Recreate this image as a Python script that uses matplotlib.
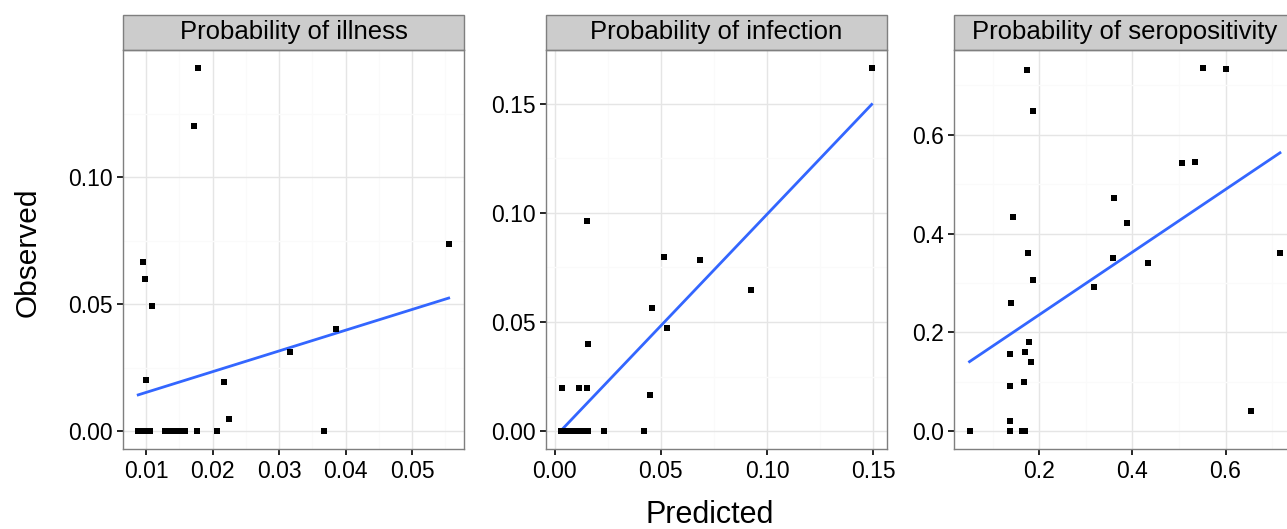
import matplotlib
matplotlib.use('Agg')  # no UI backend
import numpy as np
import matplotlib.pyplot as plt
from matplotlib.patches import Rectangle
from matplotlib.ticker import FixedLocator, FormatStrFormatter

plt.rcParams['font.family'] = ['Liberation Sans', 'DejaVu Sans']

titles = ["Probability of illness", "Probability of infection", "Probability of seropositivity"]

# illness
pred_ill = [0.0178, 0.01725, 0.0555, 0.00945, 0.0098, 0.0109, 0.0100, 0.0217, 0.0225,
            0.0317, 0.0385, 0.0368, 0.0088, 0.0093, 0.0096, 0.0106, 0.0129, 0.0138,
            0.0143, 0.0149, 0.0155, 0.0158, 0.0177, 0.0207]
obs_ill = [0.1429, 0.120, 0.0737, 0.0667, 0.0599, 0.0494, 0.020, 0.0192, 0.0046,
           0.0312, 0.0401, 0, 0, 0, 0, 0, 0, 0, 0, 0, 0, 0, 0, 0]

# infection
pred_inf = [0.1492, 0.0150, 0.0516, 0.0684, 0.0922, 0.0458, 0.0531, 0.0157, 0.0037,
            0.0114, 0.0154, 0.0447, 0.0031, 0.0045, 0.0055, 0.0078, 0.0090, 0.0105,
            0.0120, 0.0135, 0.0157, 0.0230, 0.0419]
obs_inf = [0.1663, 0.0962, 0.0800, 0.0782, 0.0645, 0.0563, 0.0473, 0.0400, 0.0199,
           0.0199, 0.0199, 0.0167, 0, 0, 0, 0, 0, 0, 0, 0, 0, 0, 0]

# seropositivity
pred_sero = [0.174, 0.186, 0.551, 0.601, 0.506, 0.535, 0.360, 0.144, 0.388, 0.175,
             0.358, 0.434, 0.717, 0.187, 0.318, 0.139, 0.178, 0.138, 0.169, 0.183,
             0.166, 0.136, 0.655, 0.138, 0.050, 0.136, 0.162, 0.169]
obs_sero = [0.731, 0.648, 0.735, 0.733, 0.543, 0.544, 0.473, 0.433, 0.422, 0.361,
            0.351, 0.340, 0.361, 0.307, 0.291, 0.260, 0.180, 0.156, 0.160, 0.140,
            0.100, 0.091, 0.040, 0.021, 0.0, 0.0, 0.0, 0.0]

# linear fits (intercept, slope)
fits = [(0.0071, 0.816), (-0.0028, 1.022), (0.109, 0.634)]

xticks = [[0.01, 0.02, 0.03, 0.04, 0.05], [0.00, 0.05, 0.10, 0.15], [0.2, 0.4, 0.6]]
xminor = [[0.005, 0.015, 0.025, 0.035, 0.045, 0.055], [0.025, 0.075, 0.125], [0.1, 0.3, 0.5, 0.7]]
yticks = [[0.00, 0.05, 0.10], [0.00, 0.05, 0.10, 0.15], [0.0, 0.2, 0.4, 0.6]]
yminor = [[0.025, 0.075, 0.125], [0.025, 0.075, 0.125], [0.1, 0.3, 0.5, 0.7]]
fmts = ['%.2f', '%.2f', '%.1f']

W, H = 1287, 529
fig = plt.figure(figsize=(W / 100, H / 100), dpi=100)
lefts = [122.7, 545.7, 954.0]
pw = 341.5
bottom_px, top_px = 449.3, 50.0
strip_h = 35.0

data = [(pred_ill, obs_ill), (pred_inf, obs_inf), (pred_sero, obs_sero)]

for i, (px, py) in enumerate(data):
    ax = fig.add_axes([lefts[i] / W, 1 - bottom_px / H, pw / W, (bottom_px - top_px) / H])
    px = np.array(px)
    py = np.array(py)
    b0, b1 = fits[i]
    xl = np.array([px.min(), px.max()])
    ax.plot(xl, b0 + b1 * xl, color='#3366FF', lw=2.0, zorder=3)
    ax.plot(px, py, 's', color='black', ms=4.2, mew=0, zorder=4)
    ax.margins(0.05)
    ax.xaxis.set_major_locator(FixedLocator(xticks[i]))
    ax.xaxis.set_minor_locator(FixedLocator(xminor[i]))
    ax.yaxis.set_major_locator(FixedLocator(yticks[i]))
    ax.yaxis.set_minor_locator(FixedLocator(yminor[i]))
    ax.xaxis.set_major_formatter(FormatStrFormatter(fmts[i]))
    ax.yaxis.set_major_formatter(FormatStrFormatter(fmts[i]))
    ax.grid(True, which='major', color='#E5E5E5', lw=1.0, zorder=0)
    ax.grid(True, which='minor', color='#FAFAFA', lw=1.0, zorder=0)
    ax.set_axisbelow(True)
    ax.tick_params(which='major', length=4.5, width=1.2, color='black', labelsize=16.5,
                   labelcolor='black', pad=3)
    ax.tick_params(which='minor', length=0)
    for s in ax.spines.values():
        s.set_color('#7F7F7F')
        s.set_linewidth(1.0)
    # facet strip
    sh = strip_h / (bottom_px - top_px)
    ax.add_patch(Rectangle((0, 1), 1, sh, transform=ax.transAxes, facecolor='#CCCCCC',
                           edgecolor='#7F7F7F', lw=1.0, clip_on=False))
    ax.text(0.5, 1 + sh / 2, titles[i], transform=ax.transAxes, ha='center', va='center',
            fontsize=18.5, color='black')

fig.text(28 / W, 1 - 252 / H, 'Observed', rotation=90, ha='center', va='center', fontsize=21.5)
fig.text(710 / W, 1 - 515 / H, 'Predicted', ha='center', va='center', fontsize=22)

plt.savefig('out.png', dpi=100)
